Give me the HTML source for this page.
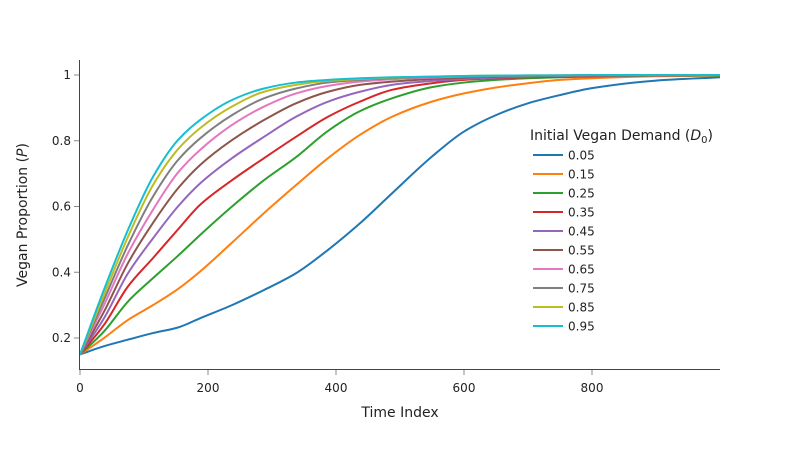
<!DOCTYPE html>
<html><head><meta charset="utf-8"><style>
body{margin:0;background:#fff}
svg{display:block;font-family:"DejaVu Sans","Liberation Sans",sans-serif}
</style></head><body>
<svg id="chart" width="800" height="450" viewBox="0 0 800 450">
<g id="series"></g>
<g id="axes"></g>
<g id="legend"></g>
</svg>
<script>
const times = [0,37.5,75,114,153,187.5,237.5,287.5,337.5,387.5,437.5,487.5,550,600,650,700,750,800,900,1000];
const seriesLabels = ["0.05","0.15","0.25","0.35","0.45","0.55","0.65","0.75","0.85","0.95"];
const colors = ["#1f77b4","#ff7f0e","#2ca02c","#d62728","#9467bd","#8c564b","#e377c2","#7f7f7f","#bcbd22","#17becf"];
const s005 = [.15,.175,.195,.215,.232,.26,.30,.346,.397,.468,.549,.64,.752,.828,.878,.914,.939,.96,.983,.993];
const s015 = [.15,.20,.255,.30,.349,.402,.49,.58,.665,.747,.818,.873,.919,.944,.962,.975,.985,.99,.996,.998];
const s025 = [.15,.22,.311,.382,.45,.513,.60,.68,.75,.83,.89,.929,.963,.977,.985,.99,.993,.995,.998,.999];
const s035 = [.15,.24,.357,.443,.53,.605,.68,.747,.812,.873,.919,.955,.975,.985,.99,.993,.995,.997,.999,1];
const s045 = [.15,.26,.397,.503,.60,.67,.747,.812,.873,.919,.949,.97,.982,.988,.992,.995,.997,.998,.999,1];
const s055 = [.15,.28,.428,.55,.655,.726,.802,.863,.914,.949,.97,.98,.988,.992,.995,.997,.998,.999,1,1];
const s065 = [.15,.30,.458,.59,.703,.772,.848,.904,.944,.967,.98,.987,.992,.995,.997,.998,.999,.999,1,1];
const s075 = [.15,.316,.483,.63,.741,.807,.878,.929,.959,.977,.985,.99,.994,.996,.997,.998,.999,.999,1,1];
const s085 = [.15,.331,.508,.665,.774,.838,.904,.949,.97,.982,.988,.992,.995,.997,.998,.999,.999,1,1,1];
const s095 = [.15,.347,.529,.69,.802,.863,.924,.959,.977,.985,.99,.993,.995,.997,.998,.999,.999,1,1,1];
const allSeries = [s005,s015,s025,s035,s045,s055,s065,s075,s085,s095];
const xTicks = [0,200,400,600,800];
const yTicks = [0.2,0.4,0.6,0.8,1];
const yTickLabels = ["0.2","0.4","0.6","0.8","1"];

const NS="http://www.w3.org/2000/svg";
const X0=80,X1=720,XMAX=1000, Y1=75, YPX=328.75;
function xs(t){return X0+(X1-X0)*t/XMAX;}
function ys(p){return Y1+(1-p)*YPX;}
function mk(tag,attrs,parent){const e=document.createElementNS(NS,tag);for(const k in attrs)e.setAttribute(k,attrs[k]);parent.appendChild(e);return e;}

// monotone cubic (Fritsch-Carlson) path
function monoPath(pts){
  const n=pts.length, dx=[], m=[], tg=new Array(n);
  for(let i=0;i<n-1;i++){dx[i]=pts[i+1][0]-pts[i][0];m[i]=(pts[i+1][1]-pts[i][1])/dx[i];}
  tg[0]=m[0]; tg[n-1]=m[n-2];
  for(let i=1;i<n-1;i++){
    if(m[i-1]*m[i]<=0) tg[i]=0;
    else {const w1=2*dx[i]+dx[i-1], w2=dx[i]+2*dx[i-1]; tg[i]=(w1+w2)/(w1/m[i-1]+w2/m[i]);}
  }
  let d="M"+pts[0][0].toFixed(2)+","+pts[0][1].toFixed(2);
  for(let i=0;i<n-1;i++){
    const h=dx[i]/3;
    d+=" C"+(pts[i][0]+h).toFixed(2)+","+(pts[i][1]+tg[i]*h).toFixed(2)+" "+(pts[i+1][0]-h).toFixed(2)+","+(pts[i+1][1]-tg[i+1]*h).toFixed(2)+" "+pts[i+1][0].toFixed(2)+","+pts[i+1][1].toFixed(2);
  }
  return d;
}

const sg=document.getElementById("series");
allSeries.forEach((vals,i)=>{
  const pts=times.map((t,j)=>[xs(t),ys(vals[j])]);
  const p=mk("path",{d:monoPath(pts),fill:"none",stroke:colors[i],"stroke-width":2},sg);
  
  
});

const ax=document.getElementById("axes");
const yl=mk("line",{x1:79.5,y1:60,x2:79.5,y2:370,stroke:"#444","stroke-width":1},ax);


const xl=mk("line",{x1:79,y1:369.5,x2:720,y2:369.5,stroke:"#444","stroke-width":1},ax);


xTicks.forEach(t=>{
  const tk=mk("line",{x1:xs(t),y1:370,x2:xs(t),y2:375,stroke:"#888","stroke-width":1},ax);
  
  
  const tx=mk("text",{x:xs(t),y:392,"text-anchor":"middle","font-size":12,fill:"#222"},ax);
  tx.textContent=String(t);
  
  
});
yTicks.forEach((v,i)=>{
  const tk=mk("line",{x1:74,y1:ys(v),x2:79,y2:ys(v),stroke:"#888","stroke-width":1},ax);
  
  
  const tx=mk("text",{x:71,y:ys(v)+4,"text-anchor":"end","font-size":12,fill:"#222"},ax);
  tx.textContent=yTickLabels[i];
  
  
});
const xt=mk("text",{x:400,y:417,"text-anchor":"middle","font-size":14,fill:"#222"},ax);
xt.textContent="Time Index";


const yt=mk("text",{x:0,y:0,"text-anchor":"middle","font-size":14,fill:"#222",transform:"translate(27,215) rotate(-90)"},ax);
yt.innerHTML='Vegan Proportion (<tspan font-style="italic">P</tspan>)';



const lg=document.getElementById("legend");
const lt=mk("text",{x:530,y:140,"font-size":14,fill:"#222"},lg);
lt.innerHTML='Initial Vegan Demand (<tspan font-style="italic">D</tspan><tspan font-size="10" dy="3">0</tspan><tspan dy="-3">)</tspan>';


seriesLabels.forEach((lab,i)=>{
  const y=155+i*19;
  const g=mk("g",{},lg);
  
  
  const l=mk("line",{x1:533,y1:y,x2:563,y2:y,stroke:colors[i],"stroke-width":2},g);
  
  
  const t=mk("text",{x:568,y:y+4.5,"font-size":12,fill:"#222"},g);
  t.textContent=lab;
  
  
});
</script>
</body></html>
